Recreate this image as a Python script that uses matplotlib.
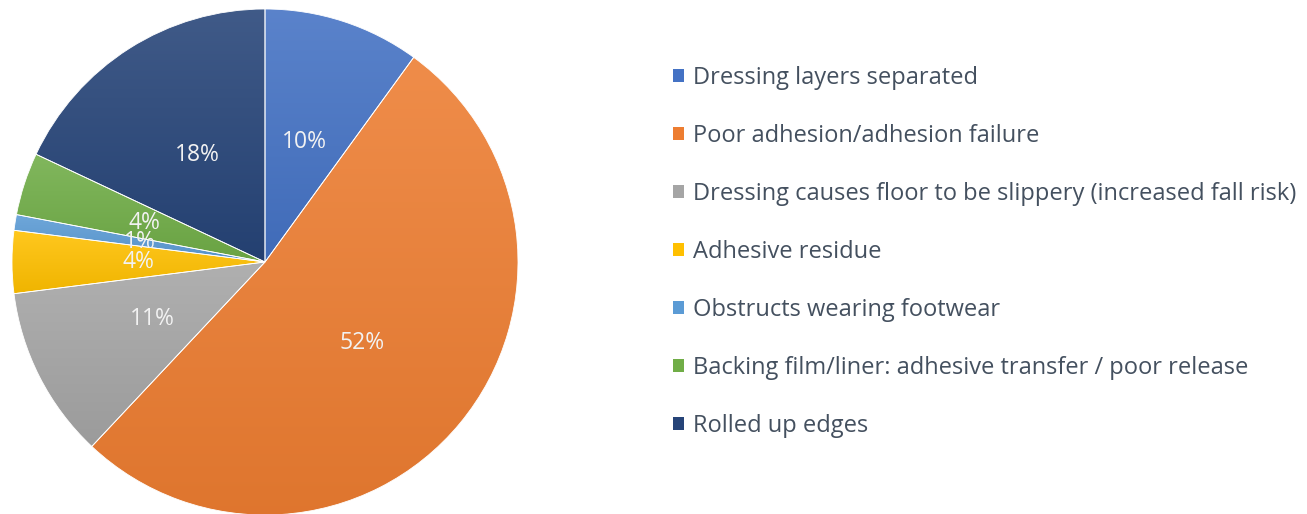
import numpy as np
import matplotlib
matplotlib.use('Agg')
from matplotlib import pyplot as plt
from matplotlib.patches import Patch
from matplotlib.colors import to_rgb

labels = ['Dressing layers separated',
          'Poor adhesion/adhesion failure',
          'Dressing causes floor to be slippery (increased fall risk)',
          'Adhesive residue',
          'Obstructs wearing footwear',
          'Backing film/liner: adhesive transfer / poor release',
          'Rolled up edges']
shares = [10, 52, 11, 4, 1, 4, 18]
colors = ['#4472C4', '#ED7D31', '#A5A5A5', '#FFC000', '#5B9BD5', '#70AD47', '#264478']

plt.rcParams['font.family'] = ['Open Sans', 'DejaVu Sans']

fig = plt.figure(figsize=(13.07, 5.14), dpi=100)
ax = fig.add_axes([12 / 1307, -1 / 514, 506 / 1307, 506 / 514])

wedges, texts, autotexts = ax.pie(shares, colors=colors, startangle=90, counterclock=False,
                                  autopct='%1.0f%%', pctdistance=0.5,
                                  textprops=dict(color='#f2f2f2', fontsize=16.5))

# vertical gradient inside each slice, lighter at the top
for w, c in zip(wedges, colors):
    verts = w.get_path().vertices
    verts = w.get_patch_transform().transform(verts)
    x0, y0 = verts.min(axis=0)
    x1, y1 = verts.max(axis=0)
    base = np.array(to_rgb(c))
    top = base + (1 - base) * 0.12
    bot = base * 0.94
    t = np.linspace(0, 1, 256)[:, None]
    grad = (bot[None, :] * (1 - t) + top[None, :] * t)[:, None, :]
    im = ax.imshow(grad, extent=[x0, x1, y0, y1], origin='lower', aspect='auto', zorder=1)
    im.set_clip_path(w)
    w.set_facecolor('none')
    w.set_edgecolor('white')
    w.set_linewidth(0.6)
    w.set_zorder(2)
for t in autotexts:
    t.set_zorder(3)
ax.set_xlim(-1, 1)
ax.set_ylim(-1, 1)
ax.axis('off')

handles = [Patch(facecolor=c, edgecolor='none') for c in colors]
fig.legend(handles, labels, loc='upper left', bbox_to_anchor=(652 / 1307, 1 - 45 / 514),
           frameon=False, fontsize=17, labelcolor='#44505f',
           handlelength=0.45, handleheight=0.45, handletextpad=0.38,
           labelspacing=1.44)

fig.savefig('out.png', dpi=100)
